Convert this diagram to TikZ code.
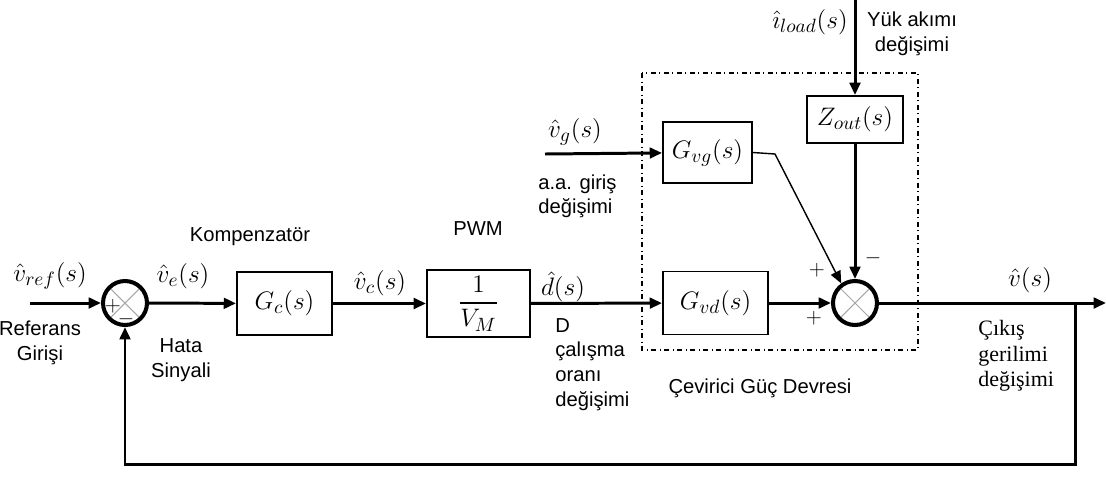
\documentclass[tikz,border=0pt]{standalone}
\usepackage{amsmath}
\usepackage{fontspec}
\setsansfont{Liberation Sans}
\newfontfamily\serifTR{Liberation Serif}
\usepackage{tikz}
\usetikzlibrary{arrows.meta, positioning, calc}

\begin{document}
\begin{tikzpicture}[
    x=0.02cm, y=-0.02cm,
    font=\sffamily\fontsize{11.5}{14}\selectfont,
    block/.style={draw, line width=1.1pt, minimum width=#1, minimum height=1.26cm, font=\fontsize{15}{17}\selectfont},
    sumnode/.style={draw, circle, line width=2.3pt, minimum size=0.88cm, inner sep=0pt,
        path picture={\draw[gray!70, line width=0.6pt]
            (path picture bounding box.south west) -- (path picture bounding box.north east)
            (path picture bounding box.north west) -- (path picture bounding box.south east);}},
    sig/.style={-{Triangle[length=7pt, width=6pt]}, line width=1.7pt},
    lbl/.style={font=\fontsize{15}{17}\selectfont, inner sep=0pt},
    note/.style={align=left, inner sep=0pt}
]
\useasboundingbox (0,0) rectangle (1106,488);

% 1. Blocks
\node[sumnode] (sum1) at (125,303) {};
\node[block=1.9cm] (gc) at (284.5,303.5) {$G_c(s)$};
\node[block=2.06cm] (pwm) at (478.5,303.5) {$\dfrac{1}{V_M}$};
\node[block=2.1cm] (gvd) at (715.5,303) {$G_{vd}(s)$};
\node[block=1.78cm, minimum height=1.22cm] (gvg) at (707.5,152.5) {$G_{vg}(s)$};
\node[block=1.92cm, minimum height=0.94cm] (zout) at (855,119.5) {$Z_{out}(s)$};
\node[sumnode] (sum2) at (855,303) {};

% 2. Converter frame
\draw[dash dot, line width=0.6pt] (642,73) rectangle (918,350);

% 3. Free ends
\coordinate (vin) at (30,303);
\coordinate (vgin) at (545,154);
\coordinate (iin) at (855,0);
\coordinate (vout) at (1106,303);
\coordinate (tap) at (1075,303);
\coordinate (fbr) at (1075,464);
\coordinate (fbl) at (125,464);
\coordinate (bend) at (775,154);

% 4. Signals
\draw[sig] (vin) -- (sum1);
\draw[sig] (sum1) -- (gc);
\draw[sig] (gc) -- (pwm);
\draw[sig] (pwm) -- (gvd);
\draw[sig] (gvd) -- (sum2);
\draw[sig] (vgin) -- (gvg);
\draw[sig] (iin) -- (zout);
\draw[sig] (zout) -- (sum2);
\draw[-{Triangle[length=7pt, width=6pt]}, line width=0.8pt] (gvg.east) -- (bend) -- (sum2.125);
\draw[sig] (sum2) -- (vout);
\draw[sig] (tap) -- (fbr) -- (fbl) -- (sum1);

% 5. Signs
\node at (113,306) {$+$};
\node at (126,319) {$-$};
\node at (817,270) {$+$};
\node at (814,318) {$+$};
\node at (873,258) {$-$};

% 6. Labels
\node[lbl] at (50,276) {$\hat{v}_{ref}(s)$};
\node[lbl] at (183,276) {$\hat{v}_e(s)$};
\node[lbl] at (380,283) {$\hat{v}_c(s)$};
\node[lbl] at (563,287) {$\hat{d}(s)$};
\node[lbl] at (575,132) {$\hat{v}_g(s)$};
\node[lbl] at (810,22) {$\hat{\imath}_{load}(s)$};
\node[lbl] at (1030,280) {$\hat{v}(s)$};

\node[align=center] at (40,343) {Referans\\Girişi};
\node[align=center] at (181,360) {Hata\\Sinyali};
\node at (250,237) {Kompenzatör};
\node at (478,229) {PWM};
\node[note, anchor=north west] at (555,318) {D\\çalışma\\oranı\\değişimi};
\node[note, anchor=north west] at (538,174) {a.a. giriş\\değişimi};
\node[align=center, anchor=north] at (912,6) {Yük akımı\\değişimi};
\node at (760,388) {Çevirici Güç Devresi};
\node[note, anchor=north west, font=\serifTR\fontsize{12.5}{14.5}\selectfont] at (978,320) {Çıkış\\gerilimi\\değişimi};

\end{tikzpicture}
\end{document}
